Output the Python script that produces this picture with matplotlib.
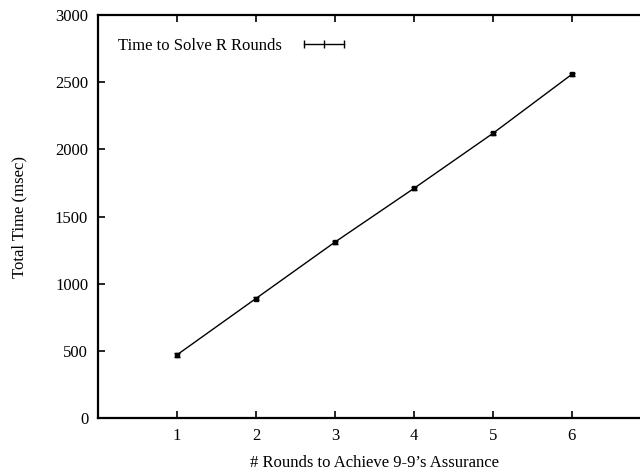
"""Total solve time vs. number of rounds (gnuplot-style errorlines)."""

import matplotlib
matplotlib.use('Agg')
import matplotlib.pyplot as plt
from matplotlib.lines import Line2D

rounds = [1, 2, 3, 4, 5, 6]
total_ms = [470, 890, 1310, 1710, 2120, 2560]
err_ms = [12, 12, 12, 12, 12, 12]
yticks = [0, 500, 1000, 1500, 2000, 2500, 3000]

plt.rcParams['font.family'] = ['Liberation Serif', 'DejaVu Serif']
plt.rcParams['font.size'] = 12

fig = plt.figure(figsize=(6.4, 4.7), dpi=100)
# right edge sits past the figure, the reference is clipped there
ax = fig.add_axes([0.153, 0.1106, 0.864, 0.857])

ax.errorbar(rounds, total_ms, yerr=err_ms, color='black', linewidth=1.0,
            elinewidth=1.0, capsize=2, marker='s', markersize=3)

ax.set_xlim(0, 7)
ax.set_ylim(0, 3000)
ax.set_xticks(rounds)
ax.set_yticks(yticks)
ax.tick_params(direction='in', length=5, width=1.2, top=True, right=False,
               labelsize=12, pad=7)
for s in ax.spines.values():
    s.set_linewidth(1.6)

ax.set_xlabel("# Rounds to Achieve 9-9\u2019s Assurance", fontsize=12, labelpad=8)
ax.set_ylabel("Total Time (msec)", fontsize=12, labelpad=20)

# gnuplot-style key sample: line with end caps
key = Line2D([], [], color='black', linewidth=1.0, marker='|', markersize=6)
ax.legend([key], ['Time to Solve R Rounds'], loc='upper left', frameon=False,
          markerfirst=False, numpoints=3, handlelength=3.0, handletextpad=1.0,
          bbox_to_anchor=(0.01, 0.98))

plt.savefig('out.png', dpi=100)
